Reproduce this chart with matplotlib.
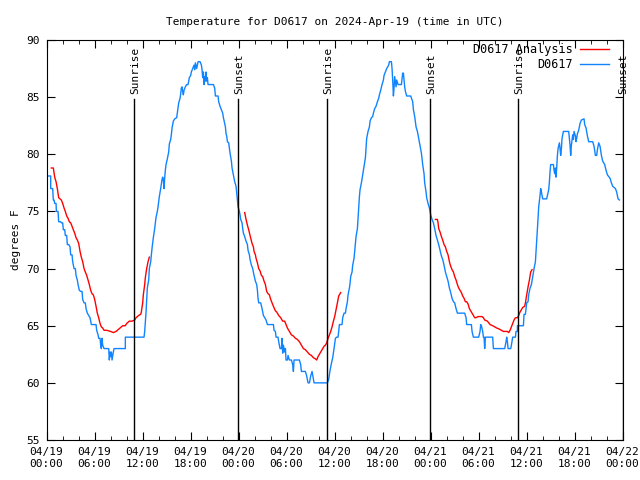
import numpy as np
import matplotlib.pyplot as plt

# D0617 observed temperature (hours since 04/19 00:00 UTC, degrees F)
obs_hours = [0.19, 0.52, 0.52, 0.77, 0.85, 0.94, 1.02, 1.19, 1.23, 1.44, 1.52, 1.77, 1.85, 2.02, 2.10, 2.27,
             2.35, 2.52, 2.60, 2.77, 2.94, 3.02, 3.19, 3.27, 3.44, 3.60, 3.69, 3.85, 3.94, 4.10, 4.27, 4.44,
             4.52, 4.69, 4.85, 4.94, 5.10, 5.27, 5.44, 5.60, 6.19, 6.27, 6.44, 6.52, 6.69, 6.77, 6.85, 6.94,
             7.02, 7.19, 7.77, 7.85, 7.94, 8.02, 8.10, 8.19, 8.35, 8.44, 9.85, 9.85, 12.19, 12.27, 12.44, 12.60,
             12.77, 12.85, 13.02, 13.19, 13.35, 13.52, 13.69, 13.85, 13.94, 14.10, 14.27, 14.44, 14.52, 14.60,
             14.69, 14.77, 14.85, 14.94, 15.10, 15.27, 15.35, 15.52, 15.60, 15.69, 15.85, 16.02, 16.27, 16.35,
             16.44, 16.52, 16.69, 16.77, 16.85, 16.94, 17.02, 17.10, 17.19, 17.35, 17.52, 17.69, 17.77, 17.85,
             18.02, 18.10, 18.27, 18.44, 18.52, 18.61, 18.77, 18.94, 19.19, 19.36, 19.44, 19.52, 19.61, 19.69,
             19.77, 19.86, 19.94, 20.02, 20.11, 20.19, 20.86, 21.02, 21.11, 21.44, 21.52, 21.69, 21.86, 22.02,
             22.11, 22.27, 22.36, 22.44, 22.52, 22.61, 22.77, 22.86, 22.94, 23.11, 23.19, 23.36, 23.52, 23.69,
             23.77, 23.86, 23.94, 24.11, 24.19, 24.27, 24.44, 24.52, 24.61, 24.77, 24.94, 25.11, 25.19, 25.36,
             25.44, 25.61, 25.77, 25.94, 26.11, 26.27, 26.36, 26.44, 26.52, 26.77, 26.94, 27.11, 27.27, 27.44,
             27.61, 28.36, 28.44, 28.61, 28.69, 28.94, 29.02, 29.19, 29.36, 29.44, 29.52, 29.61, 29.77, 29.86,
             29.94, 30.11, 30.19, 30.36, 30.61, 30.77, 30.86, 30.94, 31.61, 31.77, 31.86, 32.36, 32.52, 32.69,
             32.86, 33.02, 33.19, 33.27, 33.44, 35.11, 35.27, 35.44, 35.61, 35.77, 35.94, 36.11, 36.27, 36.44,
             36.61, 36.94, 37.02, 37.19, 37.36, 37.44, 37.61, 37.69, 37.86, 37.94, 38.02, 38.19, 38.27, 38.44,
             38.52, 38.61, 38.69, 38.86, 38.94, 39.02, 39.11, 39.19, 39.36, 39.52, 39.69, 39.86, 39.94, 40.02,
             40.19, 40.36, 40.44, 40.61, 40.77, 40.86, 41.02, 41.19, 41.36, 41.52, 41.61, 41.77, 41.94, 42.11,
             42.19, 42.36, 42.52, 42.69, 42.77, 42.86, 43.11, 43.19, 43.27, 43.36, 43.44, 43.52, 43.69, 43.77,
             43.94, 44.36, 44.52, 44.61, 44.77, 44.86, 45.02, 45.52, 45.77, 45.86, 46.02, 46.19, 46.36, 46.52,
             46.69, 46.86, 47.02, 47.19, 47.27, 47.44, 47.52, 47.69, 47.86, 48.02, 48.19, 48.36, 48.52, 48.69,
             48.86, 49.02, 49.19, 49.36, 49.52, 49.69, 49.86, 50.02, 50.19, 50.36, 50.52, 50.69, 50.86, 51.02,
             51.19, 51.36, 52.27, 52.44, 52.52, 53.11, 53.19, 53.36, 54.02, 54.19, 54.27, 54.36, 54.52, 54.61,
             54.69, 54.77, 54.86, 55.77, 55.86, 57.27, 57.44, 57.52, 57.61, 57.69, 58.02, 58.11, 58.27, 58.61,
             58.69, 58.86, 58.86, 59.61, 59.69, 59.86, 59.94, 60.02, 60.19, 60.27, 60.44, 60.61, 60.77, 60.94,
             61.11, 61.19, 61.27, 61.36, 61.44, 61.52, 61.69, 61.77, 61.86, 62.02, 62.52, 62.61, 62.77, 62.86,
             62.94, 63.02, 63.36, 63.44, 63.52, 63.61, 63.69, 63.77, 63.86, 63.94, 64.11, 64.19, 64.27, 64.36,
             64.44, 64.61, 65.27, 65.36, 65.44, 65.52, 65.61, 65.77, 65.86, 65.94, 66.11, 66.19, 66.27, 66.36,
             66.52, 66.69, 66.86, 67.19, 67.27, 67.44, 67.61, 67.77, 68.27, 68.44, 68.61, 68.77, 68.86, 69.02,
             69.19, 69.36, 69.52, 69.77, 69.94, 70.11, 70.44, 70.61, 70.77, 71.11, 71.27, 71.44, 71.61]
obs_temps = [78.1, 78.1, 77.0, 77.0, 76.0, 76.0, 75.7, 75.7, 75.0, 75.0, 74.1, 74.1, 74.0, 74.0, 73.4, 73.4,
             72.9, 72.9, 72.1, 72.1, 71.9, 71.2, 71.2, 70.6, 70.0, 70.0, 69.4, 69.0, 68.6, 68.1, 68.0, 68.0,
             67.3, 67.0, 67.0, 66.5, 66.1, 65.9, 65.7, 65.1, 65.1, 64.6, 64.2, 63.9, 63.9, 63.3, 63.0, 63.9,
             63.3, 63.0, 63.0, 62.0, 62.7, 62.3, 62.7, 62.0, 62.7, 63.0, 63.0, 64.0, 64.0, 64.5, 66.2, 68.3,
             69.0, 70.0, 70.6, 71.8, 72.7, 73.5, 74.5, 75.0, 75.4, 76.3, 77.0, 77.8, 78.0, 77.8,
             77.0, 77.9, 78.6, 79.1, 79.6, 80.2, 80.9, 81.3, 81.7, 82.3, 82.9, 83.1, 83.2, 83.6,
             84.0, 84.5, 84.9, 85.3, 85.8, 85.9, 85.5, 85.2, 85.6, 85.9, 86.1, 86.1, 86.4, 86.7,
             86.9, 87.2, 87.5, 87.8, 87.4, 88.0, 87.5, 88.1, 88.1, 87.8, 87.4, 86.7, 87.2, 86.1,
             86.8, 86.4, 87.2, 86.4, 86.7, 86.1, 86.1, 85.8, 85.1, 85.1, 84.6, 84.2, 83.9, 83.6,
             83.2, 82.7, 82.4, 81.8, 81.6, 81.1, 81.0, 80.5, 80.1, 79.4, 78.8, 78.2, 77.6, 77.2,
             76.6, 75.9, 75.4, 75.0, 74.7, 74.3, 74.0, 73.5, 73.1, 72.8, 72.4, 72.1, 71.6, 71.2,
             70.8, 70.3, 70.0, 69.4, 68.9, 68.6, 68.1, 67.4, 67.0, 67.0, 66.5, 65.9, 65.7, 65.5,
             65.1, 65.1, 64.6, 64.5, 64.0, 64.0, 63.6, 63.0, 63.0, 63.9, 62.6, 63.3, 62.7, 63.0,
             62.0, 62.0, 62.4, 62.0, 62.0, 61.6, 61.0, 62.0, 62.0, 61.6, 61.0, 61.0, 60.6, 60.0,
             60.0, 60.6, 61.0, 60.7, 60.0, 60.0, 60.3, 61.1, 61.7, 62.2, 63.0, 63.9, 64.0, 64.0,
             65.1, 65.1, 65.7, 66.1, 66.1, 66.5, 67.1, 67.7, 68.3, 68.7, 69.3, 69.7, 70.3, 70.9,
             71.5, 72.1, 72.8, 73.5, 74.4, 75.4, 76.3, 76.9, 77.5, 78.2, 78.9, 79.7, 80.5, 81.4,
             82.0, 82.4, 82.9, 83.2, 83.3, 83.6, 84.0, 84.2, 84.6, 84.9, 85.2, 85.6, 86.1, 86.5,
             86.9, 87.2, 87.5, 87.7, 87.8, 88.1, 88.1, 87.5, 86.5, 85.1, 85.8, 86.8, 85.9, 86.5,
             86.1, 86.1, 87.1, 87.1, 85.9, 85.5, 85.1, 85.1, 84.6, 83.9, 83.3, 82.4, 82.0, 81.4,
             80.8, 80.1, 79.1, 78.3, 77.5, 76.7, 76.2, 75.7, 75.3, 74.7, 74.3, 74.0, 73.5, 72.9,
             72.5, 72.1, 71.6, 71.1, 70.8, 70.3, 69.7, 69.3, 68.9, 68.3, 67.9, 67.4, 67.1, 67.0,
             66.5, 66.1, 66.1, 65.7, 65.1, 65.1, 64.5, 64.0, 64.0, 64.5, 65.1, 65.0, 64.5, 64.0,
             64.0, 63.0, 64.0, 64.0, 63.0, 63.0, 63.6, 64.0, 63.6, 63.0, 63.0, 63.3, 64.0, 64.0,
             64.5, 64.5, 65.0, 65.0, 66.0, 66.0, 66.5, 67.0, 67.1, 67.7, 68.3, 68.6, 69.3, 70.0,
             70.6, 71.5, 72.5, 73.5, 74.4, 75.4, 76.4, 77.0, 76.7, 76.1, 76.1, 76.4, 76.9, 77.6,
             78.5, 79.1, 79.1, 78.6, 78.3, 78.8, 78.0, 78.8, 79.9, 80.5, 81.0, 80.5, 79.9, 80.5,
             81.4, 82.0, 82.0, 81.4, 80.8, 79.9, 80.8, 81.7, 81.3, 82.0, 81.6, 81.1, 81.4, 81.8,
             82.1, 82.7, 83.0, 83.1, 82.6, 82.3, 81.6, 81.1, 81.1, 80.7, 79.9, 79.9, 80.4, 81.0,
             80.7, 79.9, 79.4, 79.1, 78.6, 78.2, 77.9, 77.5, 77.2, 77.0, 76.7, 76.1, 76.0]

# D0617 analysis, three overnight segments
ana1_hours = [0.60, 0.85, 1.02, 1.19, 1.35, 1.52, 1.85, 2.02, 2.19, 2.35, 2.52, 2.69, 2.85, 3.02, 3.19, 3.35,
              3.52, 3.69, 3.85, 4.02, 4.19, 4.35, 4.52, 4.69, 4.85, 5.02, 5.19, 5.35, 5.52, 5.69, 5.85, 6.02,
              6.19, 6.35, 6.52, 6.69, 6.85, 7.02, 7.19, 7.52, 8.02, 8.35, 8.69, 9.19, 9.52, 9.85, 10.02, 10.35,
              10.69, 11.02, 11.19, 11.52, 11.77, 11.85, 12.02, 12.10, 12.27, 12.35, 12.52, 12.69, 12.85]
ana1_temps = [78.8, 78.8, 78.0, 77.6, 77.0, 76.2, 76.0, 75.7, 75.3, 75.0, 74.6, 74.4, 74.1, 74.0, 73.7, 73.4,
              73.1, 72.7, 72.5, 72.2, 71.5, 71.0, 70.6, 70.0, 69.7, 69.4, 69.0, 68.6, 68.1, 67.8, 67.7, 67.3,
              66.7, 66.1, 65.7, 65.2, 64.9, 64.8, 64.6, 64.6, 64.5, 64.4, 64.5, 64.8, 65.0, 65.0, 65.2, 65.4,
              65.4, 65.5, 65.7, 65.9, 66.0, 66.2, 67.0, 67.7, 68.6, 69.2, 70.0, 70.6, 71.0]
ana2_hours = [24.77, 24.94, 25.11, 25.27, 25.44, 25.69, 25.86, 25.94, 26.11, 26.19, 26.36, 26.52, 26.69, 26.86,
              27.02, 27.19, 27.36, 27.52, 27.69, 27.86, 28.02, 28.19, 28.36, 28.61, 28.77, 29.02, 29.27, 29.52,
              29.77, 29.94, 30.11, 30.36, 30.61, 30.86, 31.11, 31.36, 31.61, 31.86, 32.11, 32.36, 32.61, 32.86,
              33.11, 33.36, 33.61, 33.77, 33.94, 34.19, 34.44, 34.69, 34.86, 35.02, 35.19, 35.36, 35.52, 35.69,
              35.86, 36.02, 36.19, 36.36, 36.52, 36.77]
ana2_temps = [74.9, 74.3, 73.8, 73.4, 72.9, 72.2, 71.9, 71.5, 71.2, 70.9, 70.5, 70.0, 69.8, 69.4,
              69.3, 68.9, 68.6, 68.0, 67.8, 67.7, 67.3, 67.0, 66.7, 66.3, 66.2, 65.9, 65.7, 65.4,
              65.4, 65.1, 64.8, 64.5, 64.2, 64.1, 63.9, 63.8, 63.6, 63.3, 63.0, 62.9, 62.7, 62.5,
              62.4, 62.2, 62.1, 62.0, 62.3, 62.6, 62.9, 63.2, 63.3, 63.5, 63.9, 64.2, 64.5, 64.9,
              65.4, 65.8, 66.4, 67.0, 67.6, 67.9]
ana3_hours = [48.61, 48.86, 48.94, 49.02, 49.19, 49.36, 49.52, 49.69, 49.86, 50.02, 50.19, 50.36, 50.52, 50.69,
              50.86, 51.02, 51.19, 51.36, 51.52, 51.69, 51.86, 52.02, 52.19, 52.36, 52.52, 52.69, 52.86, 53.02,
              53.19, 53.36, 53.52, 53.69, 53.94, 54.44, 54.61, 54.77, 55.11, 55.44, 55.77, 56.02, 56.27, 56.61,
              56.86, 57.11, 57.36, 57.61, 57.77, 57.94, 58.11, 58.27, 58.44, 58.61, 58.86, 59.02, 59.19, 59.36,
              59.52, 59.77, 59.86, 60.02, 60.19, 60.36, 60.52, 60.69]
ana3_temps = [74.3, 74.3, 74.0, 73.5, 73.2, 72.8, 72.5, 72.1, 71.9, 71.5, 71.2, 70.6, 70.2, 69.9,
              69.7, 69.3, 69.0, 68.6, 68.3, 68.1, 67.9, 67.6, 67.4, 67.1, 67.1, 66.9, 66.5, 66.3,
              66.1, 65.9, 65.7, 65.7, 65.8, 65.8, 65.7, 65.5, 65.4, 65.1, 65.0, 64.9, 64.8, 64.7,
              64.6, 64.5, 64.5, 64.5, 64.4, 64.6, 64.9, 65.2, 65.5, 65.7, 65.7, 65.9, 66.2, 66.4,
              66.6, 66.7, 67.0, 67.7, 68.4, 69.0, 69.7, 69.9]

# sun events (hours since start)
sun_hours = [10.98, 23.9, 35.06, 47.96, 58.98, 72.0]
sun_labels = ["Sunrise", "Sunset", "Sunrise", "Sunset", "Sunrise", "Sunset"]

tick_hours = [0, 6, 12, 18, 24, 30, 36, 42, 48, 54, 60, 66, 72]
tick_labels = ["04/19\n00:00", "04/19\n06:00", "04/19\n12:00", "04/19\n18:00",
               "04/20\n00:00", "04/20\n06:00", "04/20\n12:00", "04/20\n18:00",
               "04/21\n00:00", "04/21\n06:00", "04/21\n12:00", "04/21\n18:00",
               "04/22\n00:00"]

plt.rcParams['font.family'] = 'DejaVu Sans Mono'
plt.rcParams['font.size'] = 8

fig = plt.figure(figsize=(6.4, 4.8), dpi=100)
ax = fig.add_axes([0.0727, 0.0833, 0.9, 0.8334])

red = '#ff0000'
blue = '#1084ff'
ax.plot(ana1_hours, ana1_temps, color=red, lw=1.0, label="D0617 Analysis")
ax.plot(ana2_hours, ana2_temps, color=red, lw=1.0)
ax.plot(ana3_hours, ana3_temps, color=red, lw=1.0)
ax.plot(obs_hours, obs_temps, color=blue, lw=1.0, label="D0617")

for h, name in zip(sun_hours, sun_labels):
    ax.axvline(h, ymin=0, ymax=0.8525, color='black', lw=1.0)
    ax.text(h + 0.15, 85.3, name, rotation=90, ha='center', va='bottom', fontsize=8)

ax.set_xlim(0, 72)
ax.set_ylim(55, 90)
ax.set_xticks(tick_hours)
ax.set_xticklabels(tick_labels)
ax.set_xticks(np.arange(0, 73, 2), minor=True)
ax.set_yticks(np.arange(55, 91, 5))
ax.tick_params(which='both', direction='in', top=True, right=True)
ax.tick_params(which='major', length=6, pad=5)
ax.tick_params(which='minor', length=3)

ax.set_ylabel("degrees F")
ax.set_title("Temperature for D0617 on 2024-Apr-19 (time in UTC)", fontsize=8, pad=11)

ax.legend(loc='upper right', bbox_to_anchor=(0.99, 1.012), frameon=False, markerfirst=False,
          handlelength=2.4, handletextpad=0.6, borderpad=0.2, labelspacing=0.15, fontsize=8.5)

fig.savefig("out.png", dpi=100)
